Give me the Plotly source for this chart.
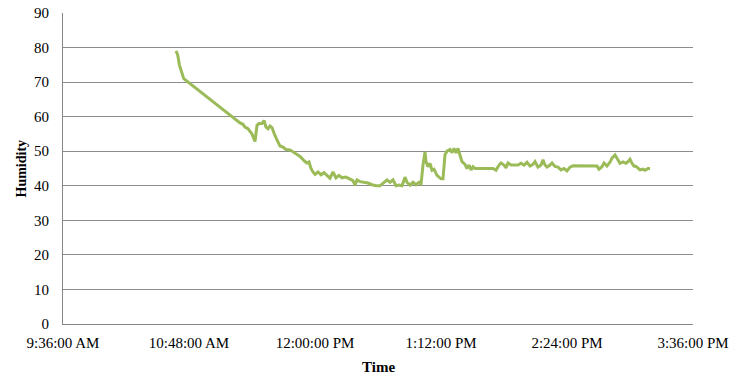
import plotly.graph_objects as go

# Humidity readings over the day (clock time, relative humidity)
times = [
    "10:40:30", "10:41:30", "10:42:30", "10:45:00", "11:17:09", "11:18:51", "11:20:00",
    "11:21:43", "11:24:00", "11:25:43", "11:26:51", "11:28:00", "11:29:43", "11:30:51",
    "11:32:00", "11:33:09", "11:34:17", "11:35:26", "11:37:09", "11:38:51", "11:40:00",
    "11:41:43", "11:43:26", "11:45:43", "11:47:26", "11:51:26", "11:54:17", "11:55:26",
    "11:56:34", "11:57:43", "11:58:51", "12:00:00", "12:01:43", "12:03:26", "12:05:09",
    "12:06:51", "12:08:34", "12:10:17", "12:12:00", "12:13:43", "12:15:26", "12:17:43",
    "12:20:00", "12:21:43", "12:22:51", "12:24:00", "12:25:43", "12:28:00", "12:30:17",
    "12:32:34", "12:34:51", "12:37:09", "12:39:26", "12:41:09", "12:42:51", "12:44:34",
    "12:46:17", "12:48:00", "12:49:43", "12:51:26", "12:52:34", "12:54:17", "12:56:00",
    "12:57:43", "12:59:26", "13:00:34", "13:01:43", "13:02:51", "13:03:26", "13:04:34",
    "13:05:43", "13:06:51", "13:08:00", "13:09:43", "13:12:00", "13:13:09", "13:14:17",
    "13:15:26", "13:17:09", "13:18:17", "13:19:26", "13:20:34", "13:21:43", "13:22:51",
    "13:24:00", "13:25:43", "13:26:51", "13:28:00", "13:29:09", "13:30:17", "13:31:26",
    "13:41:43", "13:43:26", "13:45:09", "13:46:17", "13:48:00", "13:49:09", "13:50:17",
    "13:52:00", "13:56:00", "13:57:43", "13:59:26", "14:01:09", "14:02:51", "14:04:34",
    "14:05:43", "14:07:26", "14:09:09", "14:10:17", "14:11:26", "14:12:34", "14:14:17",
    "14:15:26", "14:17:09", "14:18:51", "14:20:34", "14:22:17", "14:24:00", "14:25:43",
    "14:27:26", "14:41:09", "14:42:17", "14:44:00", "14:45:09", "14:46:51", "14:48:34",
    "14:49:43", "14:51:26", "14:53:09", "14:54:17", "14:56:00", "14:57:43", "14:58:51",
    "15:00:00", "15:01:09", "15:02:17", "15:03:26", "15:04:34", "15:05:43", "15:07:26",
    "15:08:34", "15:10:17", "15:11:26",
]
humidity = [
    79, 78, 75, 71, 58.2, 57.8, 57,
    56.5, 55, 52.8, 57.5, 58, 58, 58.9,
    57, 56.5, 57.3, 56.8, 54.5, 52.5, 51.5,
    51.2, 50.5, 50.4, 49.8, 48.5, 47, 46.6,
    46.9, 45, 44, 43.3, 44, 43.2, 43.8,
    43, 42.2, 44, 42.3, 43, 42.3, 42.5,
    42, 41.5, 40.2, 41.7, 41.2, 41, 40.8,
    40.3, 40, 40, 41, 41.7, 41, 41.7,
    40, 40.2, 40, 42.5, 41, 40.2, 41,
    40.3, 41, 40.3, 46, 49.8, 47, 45.5,
    46.5, 44.5, 44.8, 43, 42, 42, 49,
    50, 50.5, 49.6, 50.8, 49.5, 50.8, 48.5,
    47, 46.2, 45, 46, 44.6, 45.5, 45,
    45, 44.5, 46, 46.6, 46, 45.2, 46.6,
    46, 46, 46.5, 46, 46.8, 45.7, 46.2,
    47, 45.4, 46, 47.5, 46, 45.4, 46,
    46.6, 45.6, 45.4, 44.6, 45, 44.3, 45.4,
    45.8, 45.7, 44.8, 45.5, 46.6, 45.7, 46.8,
    48, 48.9, 47.5, 46.5, 46.9, 46.5, 47,
    47.7, 46.5, 45.7, 45.6, 45, 44.6, 44.8,
    44.5, 45, 45,
]

# Axis ticks every 72 minutes
tick_times = ["09:36:00", "10:48:00", "12:00:00", "13:12:00", "14:24:00", "15:36:00"]
tick_labels = ["9:36:00 AM", "10:48:00 AM", "12:00:00 PM", "1:12:00 PM", "2:24:00 PM", "3:36:00 PM"]

day = "2000-01-01 "
x = [day + t for t in times]
tickvals = [day + t for t in tick_times]

font = "Liberation Serif, Times New Roman, serif"

fig = go.Figure(
    go.Scatter(
        x=x, y=humidity, mode="lines",
        line=dict(color="#9BBB59", width=3),
        showlegend=False,
    )
)

fig.update_layout(
    width=730, height=376,
    margin=dict(l=63, r=37, t=13, b=52),
    paper_bgcolor="white", plot_bgcolor="white",
    font=dict(family=font, size=15, color="black"),
    annotations=[
        dict(text="<b>Time</b>", x=0.5, xref="paper", y=-43, yref="paper",
             showarrow=False, font=dict(family=font, size=15),
             xanchor="center", yanchor="middle"),
        dict(text="<b>Humidity</b>", x=-42, xref="paper", y=0.5, yref="paper",
             showarrow=False, font=dict(family=font, size=14), textangle=-90,
             xanchor="center", yanchor="middle"),
    ],
)
# place axis titles in pixel terms relative to the plot area
plot_w = 730 - 63 - 37
plot_h = 376 - 13 - 52
fig.layout.annotations[0].y = -(367 - 324) / plot_h
fig.layout.annotations[1].x = -(63 - 21) / plot_w

fig.update_xaxes(
    type="date", automargin=False,
    range=[tickvals[0], tickvals[-1]],
    tickvals=tickvals, ticktext=tick_labels,
    showgrid=False, zeroline=False,
    showline=True, linecolor="#868686", linewidth=1,
    ticks="outside", ticklen=5, tickcolor="rgba(0,0,0,0)",
    tickfont=dict(family=font, size=15),
)

fig.update_yaxes(
    automargin=False,
    range=[0, 90], dtick=10, tick0=0,
    showgrid=True, gridcolor="#8C8C8C", gridwidth=1,
    zeroline=False,
    showline=True, linecolor="#868686", linewidth=1,
    ticks="outside", ticklen=10, tickcolor="rgba(0,0,0,0)",
    tickfont=dict(family=font, size=15),
)

fig.write_html("out.html")
